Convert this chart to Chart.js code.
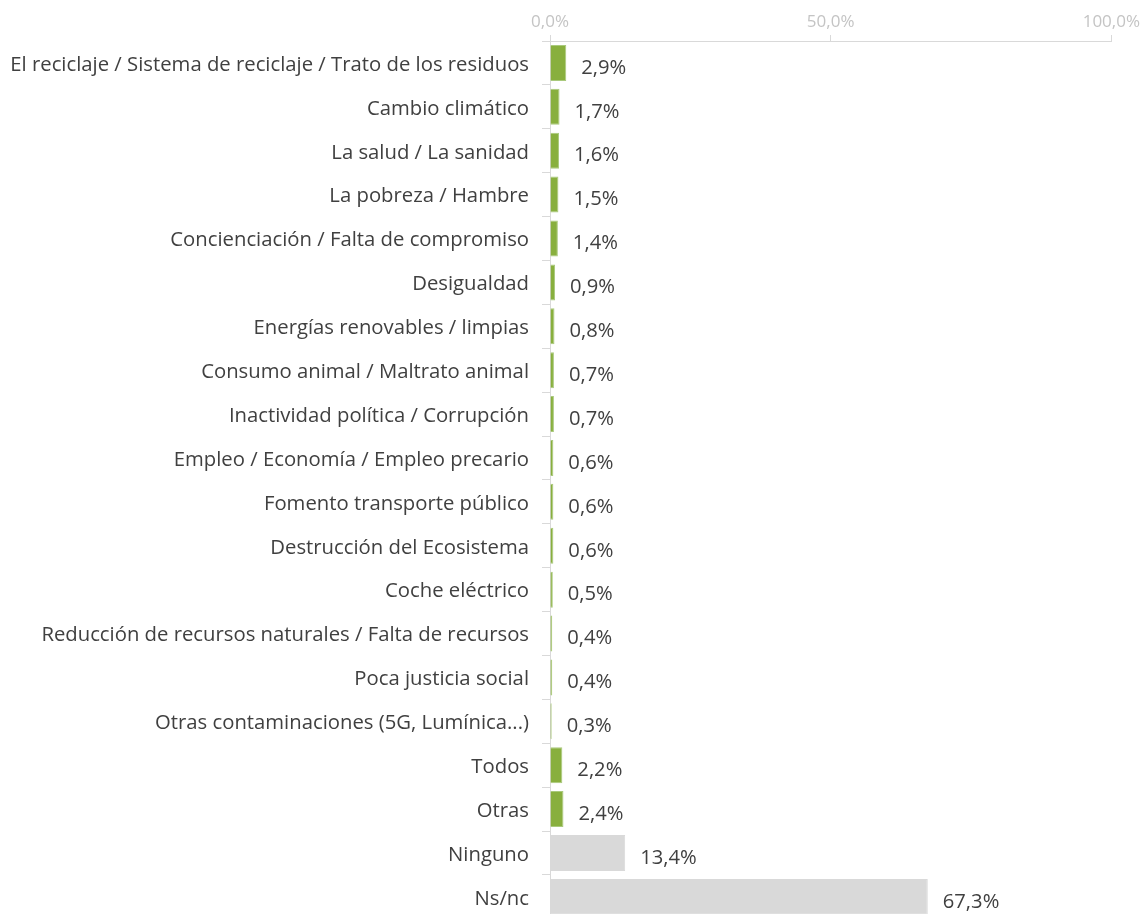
<!DOCTYPE html>
<html>
<head>
<meta charset="utf-8">
<script src="https://cdn.jsdelivr.net/npm/chart.js@4/dist/chart.umd.min.js"></script>
<style>
html,body{margin:0;padding:0;background:#fff;overflow:hidden;}
canvas{display:block;}
</style>
</head>
<body>
<canvas id="c" width="1143" height="944"></canvas>
<script>
const categories = [
  "El reciclaje / Sistema de reciclaje / Trato de los residuos",
  "Cambio climático",
  "La salud / La sanidad",
  "La pobreza / Hambre",
  "Concienciación / Falta de compromiso",
  "Desigualdad",
  "Energías renovables / limpias",
  "Consumo animal / Maltrato animal",
  "Inactividad política / Corrupción",
  "Empleo / Economía / Empleo precario",
  "Fomento transporte público",
  "Destrucción del Ecosistema",
  "Coche eléctrico",
  "Reducción de recursos naturales / Falta de recursos",
  "Poca justicia social",
  "Otras contaminaciones (5G, Lumínica...)",
  "Todos",
  "Otras",
  "Ninguno",
  "Ns/nc"
];
const values = [2.9, 1.7, 1.6, 1.5, 1.4, 0.9, 0.8, 0.7, 0.7, 0.6, 0.6, 0.6, 0.5, 0.4, 0.4, 0.3, 2.2, 2.4, 13.4, 67.3];
const neutralCategories = ["Ninguno", "Ns/nc"];
const xTicks = [0, 50, 100];

const fmt = v => v.toFixed(1).replace('.', ',') + '%';
const GREEN = '#88af3e', GREEN_BORDER = '#a9c97c', GRAY = '#d9d9d9';
const FONT = '"Open Sans", "Noto Sans", sans-serif';

const valueLabels = {
  id: 'valueLabels',
  afterDatasetsDraw(chart) {
    const ctx = chart.ctx;
    const meta = chart.getDatasetMeta(0);
    ctx.save();
    ctx.font = '20.2px ' + FONT;
    ctx.fillStyle = '#404040';
    ctx.textAlign = 'left';
    ctx.textBaseline = 'middle';
    meta.data.forEach((bar, i) => {
      ctx.fillText(fmt(values[i]), bar.x + 15, bar.y + 5);
    });
    ctx.restore();
  }
};

new Chart(document.getElementById('c'), {
  type: 'bar',
  data: {
    labels: categories,
    datasets: [{
      data: values,
      backgroundColor: categories.map(c => neutralCategories.includes(c) ? GRAY : GREEN),
      borderColor: categories.map(c => neutralCategories.includes(c) ? GRAY : GREEN_BORDER),
      borderWidth: 1,
      barPercentage: 0.82,
      categoryPercentage: 1
    }]
  },
  options: {
    indexAxis: 'y',
    responsive: false,
    animation: false,
    devicePixelRatio: 1,
    layout: { padding: { left: 0, right: 31, top: 0, bottom: 11 } },
    plugins: { legend: { display: false }, tooltip: { enabled: false } },
    scales: {
      x: {
        position: 'top',
        min: 0, max: 100,
        afterBuildTicks: axis => { axis.ticks = xTicks.map(v => ({ value: v })); },
        afterFit: axis => { axis.height = 41; },
        grid: { drawOnChartArea: false, color: '#d9d9d9', tickLength: 6 },
        border: { color: '#d9d9d9' },
        ticks: { color: '#c4c4c4', font: { family: FONT, size: 17 }, padding: 3, callback: v => fmt(v), maxRotation: 0 }
      },
      y: {
        afterFit: axis => { axis.width = 550; },
        grid: { drawOnChartArea: false, color: '#d9d9d9', tickLength: 8, offset: true },
        border: { color: '#d9d9d9' },
        ticks: { color: '#404040', font: { family: FONT, size: 20.3 }, padding: 13, autoSkip: false, labelOffset: 2 }
      }
    }
  },
  plugins: [valueLabels]
});
</script>
</body>
</html>
